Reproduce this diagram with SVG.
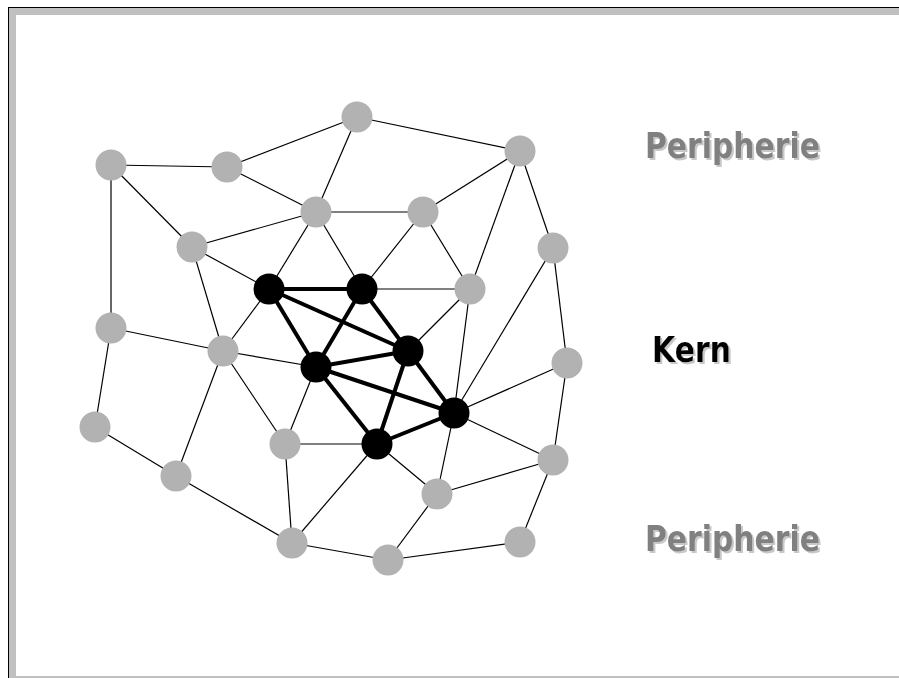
<svg xmlns="http://www.w3.org/2000/svg" width="899" height="678" viewBox="0 0 899 678">
<style>
.thin{stroke:#000;stroke-width:1.2;fill:none}
.thick{stroke:#000;stroke-width:4;fill:none}
.p{fill:#b2b2b2}
.k{fill:#000}
.lbl{font-family:"DejaVu Sans","Liberation Sans",sans-serif;font-weight:bold;font-size:35px}
</style>
<defs>
<filter id="shadow" x="-10%" y="-20%" width="120%" height="150%">
<feFlood flood-color="#c8c8c8" result="c"/>
<feComposite in="c" in2="SourceAlpha" operator="in" result="s"/>
<feOffset in="s" dx="2" dy="2" result="o"/>
<feMerge><feMergeNode in="o"/><feMergeNode in="SourceGraphic"/></feMerge>
</filter>
</defs>
<rect x="0" y="0" width="899" height="678" fill="#fff"/>
<g id="frame">
<rect x="9" y="8" width="890" height="7" fill="#c0c0c0"/>
<rect x="9" y="8" width="7" height="670" fill="#c0c0c0"/>
<rect x="9" y="676" width="890" height="2" fill="#c0c0c0"/>
<line x1="8" y1="7.5" x2="899" y2="7.5" stroke="#000" stroke-width="1"/>
<line x1="8.5" y1="7" x2="8.5" y2="678" stroke="#000" stroke-width="1"/>
</g>
<g id="connectors">
<g class="thin">
<line x1="111" y1="165" x2="227" y2="167"/>
<line x1="111" y1="165" x2="111" y2="328"/>
<line x1="111" y1="165" x2="192" y2="247"/>
<line x1="227" y1="167" x2="357" y2="117"/>
<line x1="227" y1="167" x2="316" y2="212"/>
<line x1="357" y1="117" x2="520" y2="151"/>
<line x1="357" y1="117" x2="316" y2="212"/>
<line x1="520" y1="151" x2="423" y2="212"/>
<line x1="520" y1="151" x2="470" y2="289"/>
<line x1="520" y1="151" x2="553" y2="248"/>
<line x1="316" y1="212" x2="423" y2="212"/>
<line x1="316" y1="212" x2="192" y2="247"/>
<line x1="316" y1="212" x2="269" y2="289"/>
<line x1="316" y1="212" x2="362" y2="289"/>
<line x1="423" y1="212" x2="362" y2="289"/>
<line x1="423" y1="212" x2="470" y2="289"/>
<line x1="362" y1="289" x2="470" y2="289"/>
<line x1="192" y1="247" x2="269" y2="289"/>
<line x1="192" y1="247" x2="223" y2="351"/>
<line x1="269" y1="289" x2="223" y2="351"/>
<line x1="111" y1="328" x2="223" y2="351"/>
<line x1="111" y1="328" x2="95" y2="427"/>
<line x1="223" y1="351" x2="316" y2="367"/>
<line x1="223" y1="351" x2="176" y2="476"/>
<line x1="223" y1="351" x2="285" y2="444"/>
<line x1="95" y1="427" x2="176" y2="476"/>
<line x1="176" y1="476" x2="292" y2="543"/>
<line x1="285" y1="444" x2="316" y2="367"/>
<line x1="285" y1="444" x2="292" y2="543"/>
<line x1="285" y1="444" x2="377" y2="444"/>
<line x1="292" y1="543" x2="377" y2="444"/>
<line x1="292" y1="543" x2="388" y2="560"/>
<line x1="388" y1="560" x2="437" y2="494"/>
<line x1="388" y1="560" x2="520" y2="542"/>
<line x1="520" y1="542" x2="553" y2="460"/>
<line x1="553" y1="460" x2="567" y2="363"/>
<line x1="567" y1="363" x2="553" y2="248"/>
<line x1="553" y1="248" x2="454" y2="413"/>
<line x1="470" y1="289" x2="454" y2="413"/>
<line x1="470" y1="289" x2="408" y2="351"/>
<line x1="567" y1="363" x2="454" y2="413"/>
<line x1="553" y1="460" x2="454" y2="413"/>
<line x1="553" y1="460" x2="437" y2="494"/>
<line x1="437" y1="494" x2="454" y2="413"/>
<line x1="437" y1="494" x2="377" y2="444"/>
</g>
<g class="thick">
<line x1="269" y1="289" x2="362" y2="289"/>
<line x1="269" y1="289" x2="316" y2="367"/>
<line x1="269" y1="289" x2="408" y2="351"/>
<line x1="362" y1="289" x2="316" y2="367"/>
<line x1="362" y1="289" x2="408" y2="351"/>
<line x1="316" y1="367" x2="408" y2="351"/>
<line x1="316" y1="367" x2="454" y2="413"/>
<line x1="316" y1="367" x2="377" y2="444"/>
<line x1="408" y1="351" x2="377" y2="444"/>
<line x1="408" y1="351" x2="454" y2="413"/>
<line x1="377" y1="444" x2="454" y2="413"/>
</g>
</g>
<g id="nodes">
<g id="nA"><circle class="p" cx="111" cy="165" r="15.5"/></g>
<g id="nB"><circle class="p" cx="227" cy="167" r="15.5"/></g>
<g id="nC"><circle class="p" cx="316" cy="212" r="15.5"/></g>
<g id="nD"><circle class="p" cx="192" cy="247" r="15.5"/></g>
<g id="nF"><circle class="p" cx="357" cy="117" r="15.5"/></g>
<g id="nG"><circle class="p" cx="520" cy="151" r="15.5"/></g>
<g id="nH"><circle class="p" cx="423" cy="212" r="15.5"/></g>
<g id="nI"><circle class="p" cx="553" cy="248" r="15.5"/></g>
<g id="nK"><circle class="p" cx="470" cy="289" r="15.5"/></g>
<g id="nQ"><circle class="p" cx="111" cy="328" r="15.5"/></g>
<g id="nR"><circle class="p" cx="223" cy="351" r="15.5"/></g>
<g id="nS"><circle class="p" cx="95" cy="427" r="15.5"/></g>
<g id="nT"><circle class="p" cx="176" cy="476" r="15.5"/></g>
<g id="nP"><circle class="p" cx="285" cy="444" r="15.5"/></g>
<g id="nU"><circle class="p" cx="292" cy="543" r="15.5"/></g>
<g id="nV"><circle class="p" cx="567" cy="363" r="15.5"/></g>
<g id="nW"><circle class="p" cx="553" cy="460" r="15.5"/></g>
<g id="nX"><circle class="p" cx="437" cy="494" r="15.5"/></g>
<g id="nY"><circle class="p" cx="520" cy="542" r="15.5"/></g>
<g id="nZ"><circle class="p" cx="388" cy="560" r="15.5"/></g>
<g id="nE"><circle class="k" cx="269" cy="289" r="15.5"/></g>
<g id="nJ"><circle class="k" cx="362" cy="289" r="15.5"/></g>
<g id="nL"><circle class="k" cx="408" cy="351" r="15.5"/></g>
<g id="nM"><circle class="k" cx="316" cy="367" r="15.5"/></g>
<g id="nN"><circle class="k" cx="454" cy="413" r="15.5"/></g>
<g id="nO"><circle class="k" cx="377" cy="444" r="15.5"/></g>
</g>
<g id="labels" filter="url(#shadow)">
<text id="lblPeriTop" class="lbl" x="645" y="158" fill="#808080" textLength="175" lengthAdjust="spacingAndGlyphs">Peripherie</text>
<text id="lblKern" class="lbl" x="652" y="362" fill="#000" textLength="79" lengthAdjust="spacingAndGlyphs">Kern</text>
<text id="lblPeriBot" class="lbl" x="645" y="551" fill="#808080" textLength="175" lengthAdjust="spacingAndGlyphs">Peripherie</text>
</g>
</svg>
